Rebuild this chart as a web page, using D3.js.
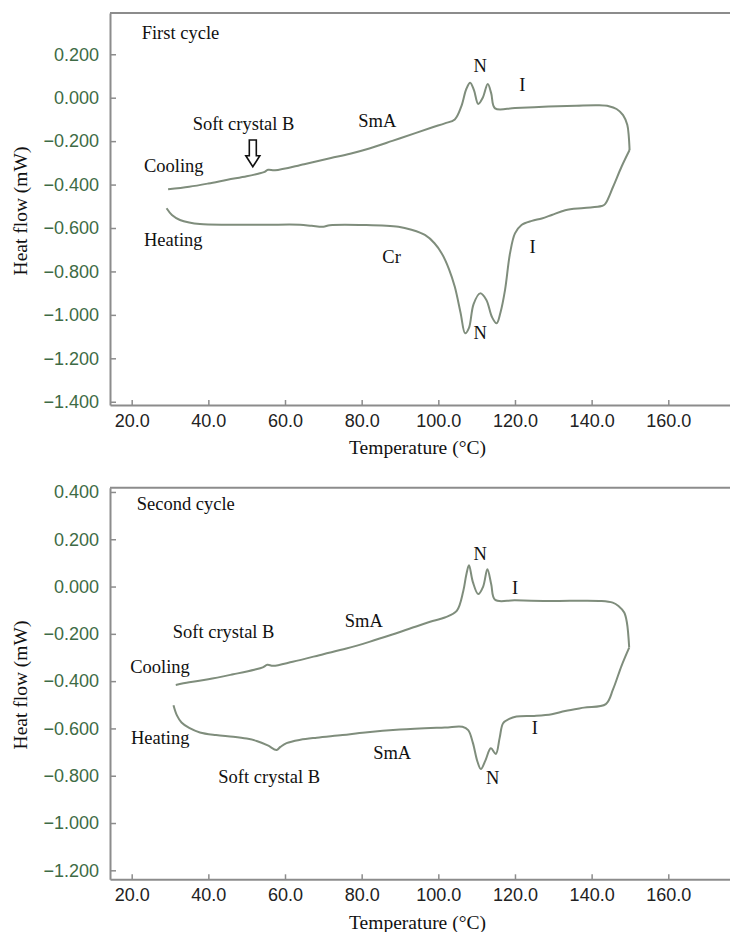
<!DOCTYPE html>
<html><head><meta charset="utf-8">
<script src="https://cdn.jsdelivr.net/npm/d3@7"></script>
<style>
html,body{margin:0;padding:0;background:#fff;}
svg{display:block;}
</style></head>
<body>
<svg id="chart" width="730" height="932"></svg>
<script>
// ---------- DATA ----------
const xTicks = [20, 40, 60, 80, 100, 120, 140, 160];
const yTicksTop = [0.2, 0, -0.2, -0.4, -0.6, -0.8, -1.0, -1.2, -1.4];
const yTicksBottom = [0.4, 0.2, 0, -0.2, -0.4, -0.6, -0.8, -1.0, -1.2];

// First cycle: [temperature °C, heat flow mW]
const cool1 = [[29.5,-0.422],[35,-0.41],[40,-0.395],[45,-0.378],[50,-0.362],[53,-0.35],[54.5,-0.343],[55.6,-0.332],[57.4,-0.334],[65,-0.306],[72,-0.278],[77,-0.258],[82,-0.234],[88,-0.199],[94,-0.163],[98.5,-0.136],[101.7,-0.118],[104.3,-0.100],[106,-0.04],[107.3,0.04],[108.3,0.069],[109.3,0.035],[110.4,-0.029],[111.6,0.0],[112.9,0.063],[113.8,0.02],[114.8,-0.049],[120,-0.047],[128.7,-0.041],[136,-0.037],[141.7,-0.035],[144.5,-0.039],[146.5,-0.052],[148.2,-0.08],[149.3,-0.125],[149.7,-0.18],[149.9,-0.241]];
const heat1 = [[29.1,-0.509],[30.5,-0.54],[32.6,-0.563],[35,-0.575],[37.8,-0.582],[45,-0.585],[55,-0.585],[63.9,-0.585],[67,-0.59],[70,-0.594],[71.7,-0.587],[80.9,-0.586],[89.6,-0.594],[93,-0.608],[96.5,-0.632],[99,-0.67],[100.9,-0.717],[102.8,-0.79],[104.3,-0.871],[105.8,-0.99],[107,-1.085],[108,-1.06],[109.2,-0.95],[110.9,-0.901],[112.5,-0.93],[114,-1.01],[115.2,-1.039],[116.2,-0.99],[117.4,-0.886],[118.7,-0.717],[120,-0.625],[121.7,-0.586],[124.4,-0.567],[127,-0.556],[129.6,-0.54],[133.1,-0.518],[138,-0.508],[142.6,-0.499],[143.5,-0.49],[145.6,-0.41],[147.8,-0.318],[149.9,-0.241]];

// Second cycle
const cool2 = [[31.5,-0.416],[35,-0.405],[40,-0.392],[46.5,-0.371],[52,-0.352],[54.2,-0.342],[55.4,-0.331],[56.9,-0.335],[62,-0.318],[70,-0.286],[76,-0.262],[82,-0.234],[88,-0.203],[94,-0.17],[98.5,-0.146],[101.7,-0.131],[104.8,-0.103],[106.5,-0.02],[107.3,0.05],[108,0.09],[109,0.02],[110.4,-0.032],[111.7,0.0],[112.8,0.073],[113.8,0.01],[114.8,-0.056],[120,-0.058],[128.7,-0.061],[142.6,-0.061],[145.5,-0.068],[147,-0.082],[148.5,-0.11],[149.2,-0.152],[149.8,-0.258]];
const heat2 = [[30.9,-0.502],[31.8,-0.545],[33.0,-0.575],[35,-0.598],[37.8,-0.617],[42,-0.628],[46.5,-0.635],[50,-0.643],[52.6,-0.653],[55.5,-0.672],[57.8,-0.691],[58.8,-0.678],[60.4,-0.662],[64,-0.648],[68.3,-0.639],[75,-0.628],[80.9,-0.617],[90,-0.605],[101.7,-0.596],[106.3,-0.593],[107.8,-0.607],[109,-0.66],[110.2,-0.74],[111.1,-0.772],[112.3,-0.735],[113.7,-0.684],[115.0,-0.708],[116.0,-0.64],[116.9,-0.578],[118.5,-0.56],[120.4,-0.55],[125,-0.547],[129.6,-0.54],[133.1,-0.526],[138,-0.512],[143.7,-0.497],[145.6,-0.434],[147.8,-0.335],[149.8,-0.258]];

// Annotations: [text, T, value, anchor]
const notesTop = [["First cycle",22.6,0.269,"start"],["Soft crystal B",35.9,-0.149,"start"],["Cooling",23.2,-0.341,"start"],["Heating",23.2,-0.683,"start"],["SmA",79.1,-0.134,"start"],["N",110.9,0.12,"middle"],["I",121.9,0.032,"middle"],["Cr",85.4,-0.763,"start"],["I",124.6,-0.714,"middle"],["N",110.9,-1.113,"middle"]];
const arrowTop = {T:51.6, top:-0.195, bottom:-0.318};
const notesBottom = [["Second cycle",21.3,0.323,"start"],["Soft crystal B",30.7,-0.216,"start"],["Cooling",19.6,-0.366,"start"],["Heating",19.8,-0.664,"start"],["Soft crystal B",42.6,-0.829,"start"],["SmA",75.6,-0.173,"start"],["N",110.9,0.113,"middle"],["I",120.0,-0.032,"middle"],["SmA",83.0,-0.730,"start"],["I",125.2,-0.624,"middle"],["N",114.2,-0.836,"middle"]];

// ---------- DRAW ----------
const svg = d3.select("#chart");
const axisColor = "#8c8c8c";
const curveColor = "#7f8d7c";
const serif = "'Liberation Serif','Times New Roman',serif";
const sans = "'Liberation Sans',Arial,sans-serif";

function panel(opt){
  const x = d3.scaleLinear().domain([14.34, 176.1]).range([110, 730]);
  const y = d3.scaleLinear().domain(opt.yDomain).range([opt.bottom, opt.top]);
  const g = svg.append("g");

  // frame
  g.append("line").attr("x1",110).attr("x2",730).attr("y1",opt.top).attr("y2",opt.top)
    .attr("stroke",axisColor).attr("stroke-width",2);

  // x axis (ticks pointing inward)
  const xa = g.append("g").attr("transform",`translate(0,${opt.bottom})`)
    .call(d3.axisBottom(x).tickValues(xTicks).tickSizeInner(-5).tickSizeOuter(0).tickPadding(12).tickFormat(d3.format(".1f")));
  xa.select(".domain").attr("stroke",axisColor).attr("stroke-width",2);
  xa.selectAll(".tick line").attr("stroke",axisColor).attr("stroke-width",1.5);
  xa.selectAll("text").attr("fill","#222").attr("font-family",sans).attr("font-size",18)
    .attr("y",22).attr("dy",0);

  // y axis
  const ya = g.append("g").attr("transform","translate(110,0)")
    .call(d3.axisLeft(y).tickValues(opt.yTicks).tickSizeInner(-6).tickSizeOuter(0).tickPadding(11)
      .tickFormat(d => d3.format(".3f")(d).replace("-", "\u2013")));
  ya.select(".domain").attr("stroke",axisColor).attr("stroke-width",2);
  ya.selectAll(".tick line").attr("stroke",axisColor).attr("stroke-width",1.5);
  ya.selectAll("text").attr("fill","#3e6b45").attr("font-family",sans).attr("font-size",18);

  // axis titles
  g.append("text").attr("x",417.5).attr("y",opt.bottom+49.3).attr("text-anchor","middle")
    .attr("font-family",serif).attr("font-size",19.5).attr("fill","#111").text("Temperature (\u00B0C)");
  g.append("text").attr("transform",`translate(27,${opt.yTitleY}) rotate(-90)`).attr("text-anchor","middle")
    .attr("font-family",serif).attr("font-size",19.5).attr("fill","#111").text("Heat flow (mW)");

  // curves
  const line = d3.line().x(d=>x(d[0])).y(d=>y(d[1])).curve(d3.curveCatmullRom.alpha(0.5));
  opt.series.forEach(s => {
    g.append("path").datum(s).attr("d",line).attr("fill","none")
      .attr("stroke",curveColor).attr("stroke-width",2).attr("stroke-linejoin","round");
  });

  // notes
  opt.notes.forEach(n => {
    g.append("text").attr("x",x(n[1])).attr("y",y(n[2])).attr("text-anchor",n[3])
      .attr("font-family",serif).attr("font-size",18.5).attr("fill","#111").text(n[0]);
  });

  if (opt.arrow){
    const a = opt.arrow;
    const cx = x(a.T), yt = y(a.top), yb = y(a.bottom);
    const sw = 3.5, hw = 7, hh = 11;
    const p = d3.path();
    p.moveTo(cx-sw, yt); p.lineTo(cx+sw, yt); p.lineTo(cx+sw, yb-hh); p.lineTo(cx+hw, yb-hh);
    p.lineTo(cx, yb); p.lineTo(cx-hw, yb-hh); p.lineTo(cx-sw, yb-hh); p.closePath();
    g.append("path").attr("d",p.toString()).attr("fill","#fff").attr("stroke","#111").attr("stroke-width",1.6);
  }
}

panel({top:13, bottom:405, yDomain:[-1.415, 0.39], yTicks:yTicksTop, yTitleY:211,
  series:[cool1, heat1], notes:notesTop, arrow:arrowTop});
panel({top:487.7, bottom:879.3, yDomain:[-1.238, 0.418], yTicks:yTicksBottom, yTitleY:685,
  series:[cool2, heat2], notes:notesBottom});
</script>
</body></html>
